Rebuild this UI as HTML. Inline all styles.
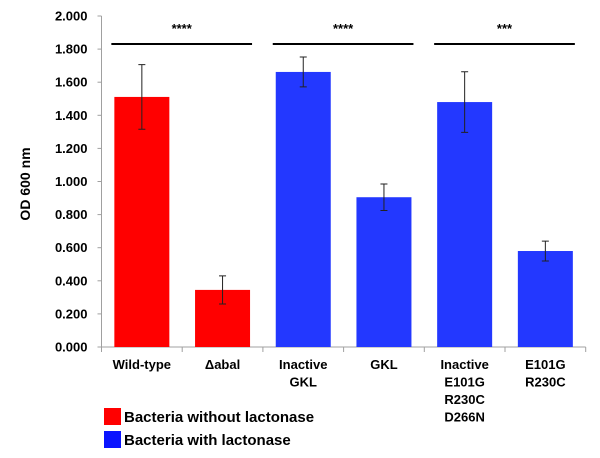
<!DOCTYPE html>
<html><head><meta charset="utf-8"><style>
body{margin:0;background:#fff;font-family:"Liberation Sans",Arial,sans-serif;}
svg text{font-family:"Liberation Sans",Arial,sans-serif;font-weight:bold;}
</style></head><body>
<svg id="chart" width="600" height="453" xmlns="http://www.w3.org/2000/svg">
<g id="plot"></g>
</svg>
<script>
const categories=[["Wild-type"],["\u0394abal"],["Inactive","GKL"],["GKL"],["Inactive","E101G","R230C","D266N"],["E101G","R230C"]];
const values=[1.511,0.345,1.662,0.905,1.480,0.580];
const errors=[0.195,0.085,0.09,0.08,0.183,0.06];
const groups=[0,0,1,1,1,1];
const yTicks=[0,0.2,0.4,0.6,0.8,1.0,1.2,1.4,1.6,1.8,2.0];
const sigLabels=["****","****","***"];
const sigPairs=[[0,1],[2,3],[4,5]];
const legendLabels=["Bacteria without lactonase","Bacteria with lactonase"];
const colors=["#ff0000","#2338ff"];
const legendColors=["#ff0000","#0a14ff"];

const NS="http://www.w3.org/2000/svg";
const g=document.getElementById('plot');
const x0=101.5,cw=80.7,y0=347,yTop=16,bw=55;
const y=v=>y0-(v/2)*(y0-yTop);
const xc=i=>x0+cw*(i+0.5);
function el(t,a,txt){const e=document.createElementNS(NS,t);for(const k in a)e.setAttribute(k,a[k]);if(txt!==undefined)e.textContent=txt;g.appendChild(e);return e;}

let e=el('line',{x1:x0,y1:yTop,x2:x0,y2:y0,stroke:'#a0a0a0'});


e=el('line',{x1:x0-4,y1:y0,x2:x0+cw*6,y2:y0,stroke:'#a0a0a0'});


yTicks.forEach(t=>{
  let l=el('line',{x1:x0-4,y1:y(t),x2:x0,y2:y(t),stroke:'#a0a0a0'});
  
  
  let tx=el('text',{x:x0-14,y:y(t)+4.5,'text-anchor':'end','font-size':'13'},t.toFixed(3));
  
  
});
for(let i=0;i<=6;i++){
  let l=el('line',{x1:x0+cw*i,y1:y0,x2:x0+cw*i,y2:y0+5,stroke:'#a0a0a0'});
  
  
}
values.forEach((v,i)=>{
  let r=el('rect',{x:xc(i)-bw/2,y:y(v),width:bw,height:y0-y(v),fill:colors[groups[i]]});
  
  
  const hi=y(v+errors[i]),lo=y(v-errors[i]);
  let eb=el('path',{d:`M${xc(i)},${hi}V${lo}M${xc(i)-3.5},${hi}H${xc(i)+3.5}M${xc(i)-3.5},${lo}H${xc(i)+3.5}`,stroke:'#222',fill:'none','stroke-width':1});
  
  
  categories[i].forEach((s,k)=>{
    let t=el('text',{x:xc(i),y:369+k*17.5,'text-anchor':'middle','font-size':'13'},s);
    
    
  });
});
sigPairs.forEach((p,k)=>{
  const a=xc(p[0])-bw/2-3,b=xc(p[1])+bw/2+2;
  let l=el('line',{x1:a,y1:44,x2:b,y2:44,stroke:'#000','stroke-width':2});
  
  
  let t=el('text',{x:(a+b)/2,y:33,'text-anchor':'middle','font-size':'13'},sigLabels[k]);
  
  
});
let yt=el('text',{x:0,y:0,'text-anchor':'middle','font-size':'14',transform:'translate(30,184) rotate(-90)'},'OD 600 nm');


legendLabels.forEach((s,k)=>{
  let r=el('rect',{x:104,y:408+k*23,width:17,height:17,fill:legendColors[k]});
  
  
  let t=el('text',{x:124,y:422+k*23,'font-size':'15'},s);
  
  
});
</script>
</body></html>
